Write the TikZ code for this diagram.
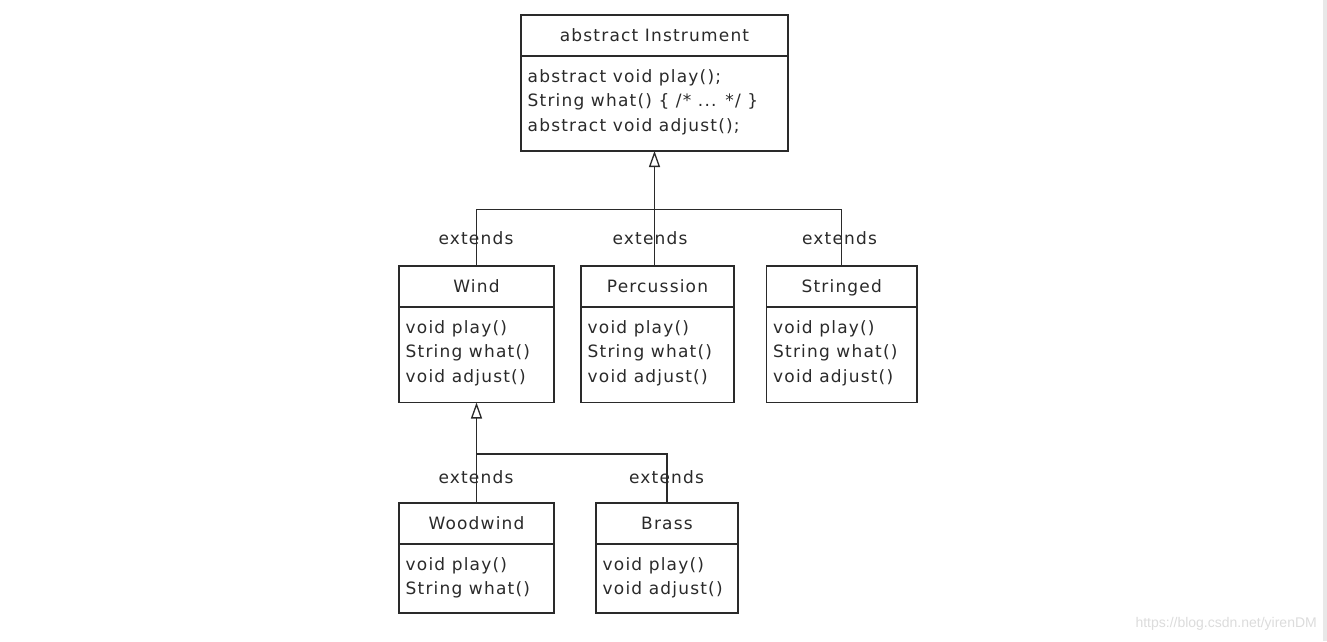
\documentclass[tikz,border=0pt]{standalone}
\usepackage{fontspec}
\newfontfamily\umlfont[LetterSpace=7]{DejaVu Sans}
\newfontfamily\wmfont{Liberation Sans}
\usetikzlibrary{arrows.meta}
\definecolor{ink}{HTML}{2A2A2A}
\definecolor{wmgray}{HTML}{DCDCDC}
\definecolor{bargray}{HTML}{E8E8E8}
\begin{document}
\begin{tikzpicture}[x=1pt,y=-1pt,
  clsbox/.style={draw=ink, line width=1.3pt, inner sep=0pt, outer sep=0pt, fill=none},
  divline/.style={draw=ink, line width=1.3pt},
  conn/.style={draw=ink, line width=1.3pt},
  gen/.style={conn, -{Triangle[open, length=16pt, width=11pt, line width=1.3pt]}},
  ttl/.style={anchor=base, inner sep=0pt, text=ink, font=\umlfont\fontsize{17}{20}\selectfont},
  mem/.style={anchor=base west, inner sep=0pt, text=ink, font=\umlfont\fontsize{17}{20}\selectfont},
  lbl/.style={anchor=base, inner sep=0pt, text=ink, font=\umlfont\fontsize{17}{20}\selectfont},
]
\useasboundingbox (0,0) rectangle (1327,641);
\fill[white] (0,0) rectangle (1327,641);
\fill[bargray] (1322.5,0) rectangle (1327,641);

% ---- class boxes ----
\node[clsbox, minimum width=267pt, minimum height=136pt] (instr) at (654.5,83) {};
\node[clsbox, minimum width=155pt, minimum height=136.5pt] (wind) at (476.5,334.25) {};
\node[clsbox, minimum width=153pt, minimum height=136.5pt] (percussion) at (657.5,334.25) {};
\node[clsbox, minimum width=150.5pt, minimum height=136.5pt] (stringed) at (841.75,334.25) {};
\node[clsbox, minimum width=155pt, minimum height=110pt] (woodwind) at (476.5,558) {};
\node[clsbox, minimum width=142pt, minimum height=110pt] (brass) at (667,558) {};

% dividers
\foreach \c in {instr,wind,percussion,stringed,woodwind,brass}{
  \draw[divline] ([yshift=-41pt]\c.north west) -- ([yshift=-41pt]\c.north east);
}

% titles
\node[ttl] (instr-t) at ([yshift=-26pt]instr.north) {abstract Instrument};
\node[ttl] (wind-t) at ([yshift=-26pt]wind.north) {Wind};
\node[ttl] (percussion-t) at ([yshift=-26pt]percussion.north) {Percussion};
\node[ttl] (stringed-t) at ([yshift=-26pt]stringed.north) {Stringed};
\node[ttl] (woodwind-t) at ([yshift=-26pt]woodwind.north) {Woodwind};
\node[ttl] (brass-t) at ([yshift=-26pt]brass.north) {Brass};

% members
\node[mem] (instr-m1) at ([xshift=6.5pt,yshift=-67pt]instr.north west) {abstract void play();};
\node[mem] (instr-m2) at ([xshift=6.5pt,yshift=-91.5pt]instr.north west) {String what() \{ /* ... */ \}};
\node[mem] (instr-m3) at ([xshift=6.5pt,yshift=-116pt]instr.north west) {abstract void adjust();};

\foreach \c in {wind,percussion,stringed}{
  \node[mem] (\c-m1) at ([xshift=6.5pt,yshift=-67pt]\c.north west) {void play()};
  \node[mem] (\c-m2) at ([xshift=6.5pt,yshift=-91.5pt]\c.north west) {String what()};
  \node[mem] (\c-m3) at ([xshift=6.5pt,yshift=-116pt]\c.north west) {void adjust()};
}
\node[mem] (woodwind-m1) at ([xshift=6.5pt,yshift=-67pt]woodwind.north west) {void play()};
\node[mem] (woodwind-m2) at ([xshift=6.5pt,yshift=-91.5pt]woodwind.north west) {String what()};
\node[mem] (brass-m1) at ([xshift=6.5pt,yshift=-67pt]brass.north west) {void play()};
\node[mem] (brass-m2) at ([xshift=6.5pt,yshift=-91.5pt]brass.north west) {void adjust()};

% ---- connectors ----
\coordinate (bus1) at (654.5,209.5);
\draw[conn] (wind.north) |- (bus1) -| (stringed.north);
\draw[gen] (percussion.north -| instr.south) -- (instr.south);

\coordinate (bus2) at (667,454);
\draw[conn] (woodwind.north) |- (bus2) -| (brass.north);
\draw[gen] (woodwind.north) -- (wind.south);

% ---- labels ----
\node[lbl] (e1) at (476,244.5) {extends};
\node[lbl] (e2) at (650,244.5) {extends};
\node[lbl] (e3) at (839.5,244.5) {extends};
\node[lbl] (e4) at (476,483.5) {extends};
\node[lbl] (e5) at (666.5,483.5) {extends};

% watermark
\node[anchor=base east, inner sep=0pt, text=wmgray, font=\wmfont\fontsize{14}{16}\selectfont] (wm) at (1317,627) {https://blog.csdn.net/yirenDM};
\end{tikzpicture}
\end{document}
